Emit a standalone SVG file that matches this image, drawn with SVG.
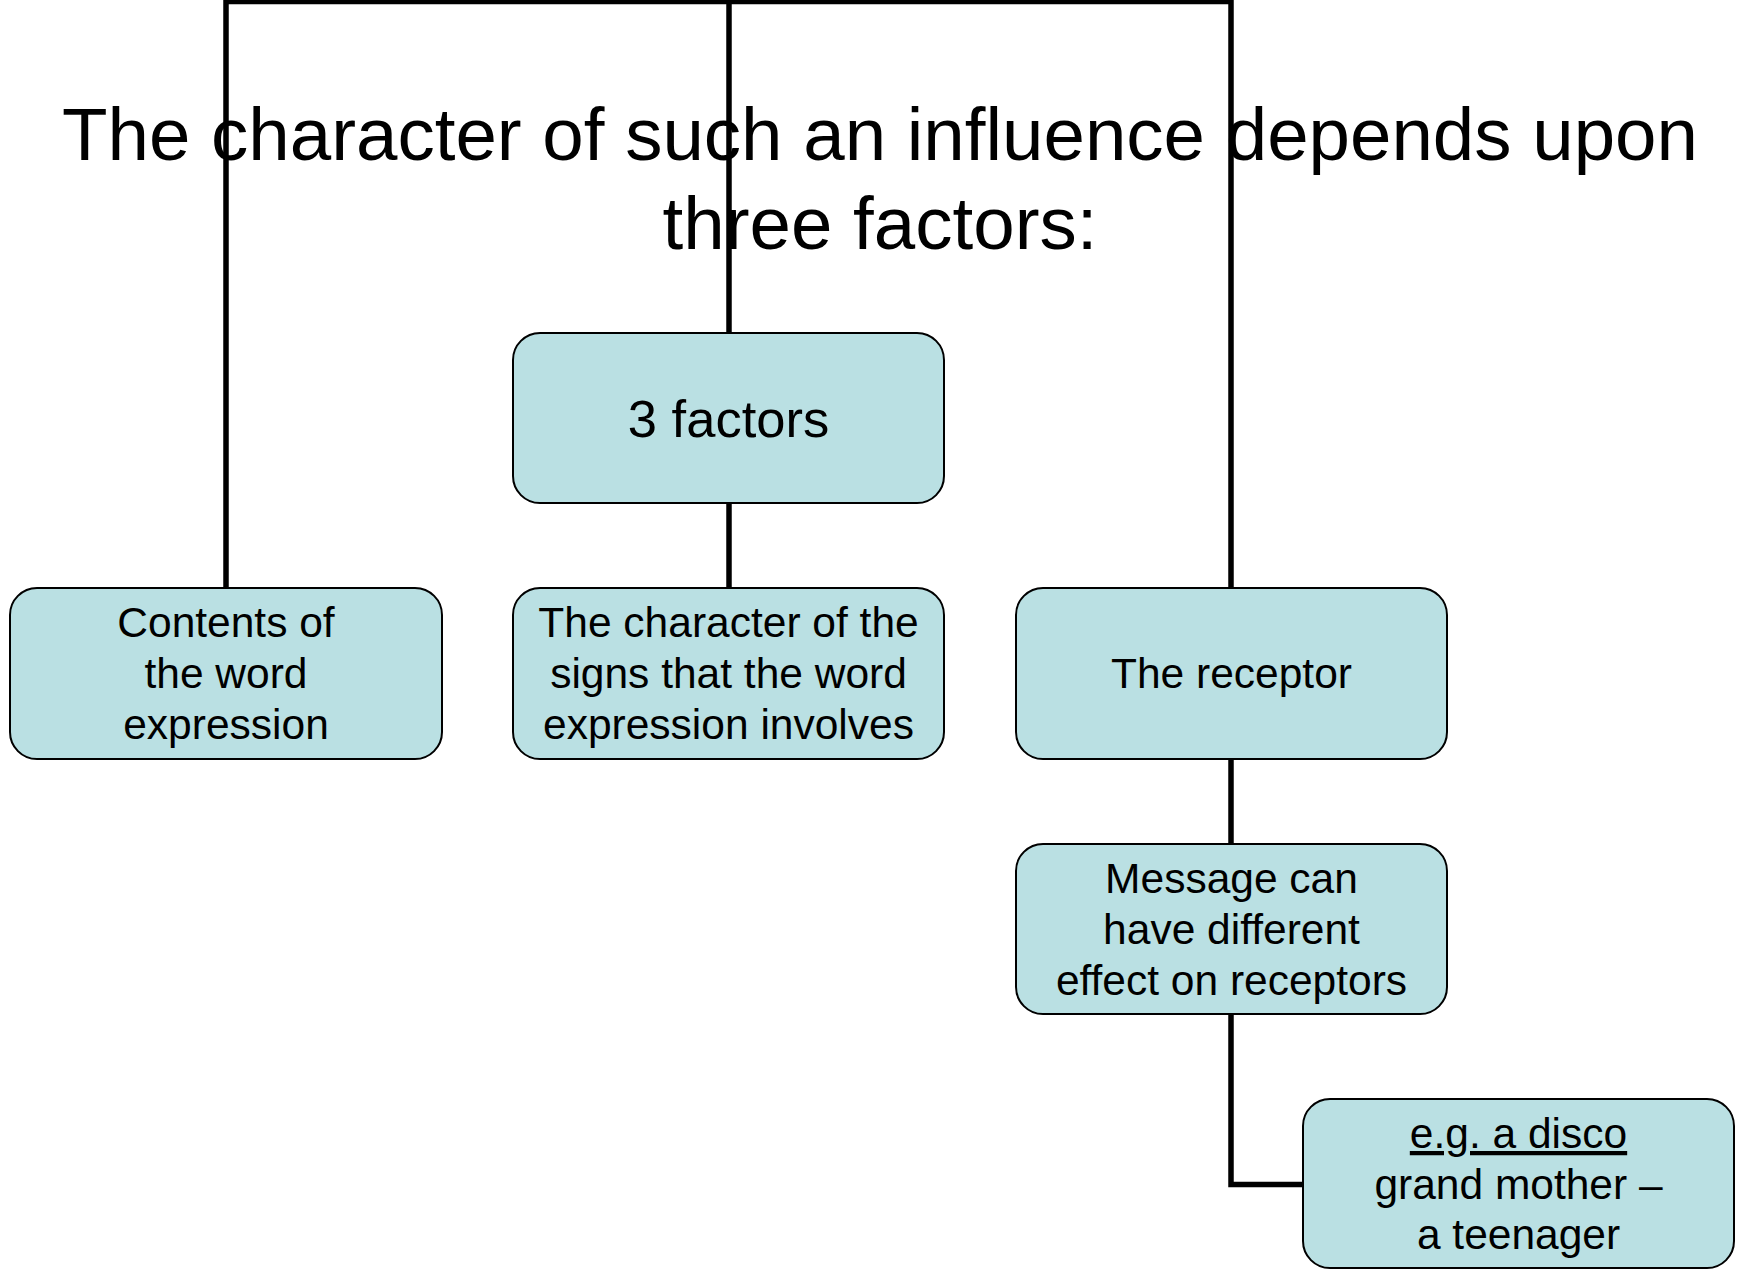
<svg xmlns="http://www.w3.org/2000/svg" width="1744" height="1270" viewBox="0 0 1744 1270">
<style>
.box{fill:#BAE0E3;stroke:#000;stroke-width:2}
.t{font-family:"Liberation Sans",Arial,sans-serif;font-size:42.5px;fill:#000;text-anchor:middle}
.big{font-size:52.5px}
.title{font-family:"Liberation Sans",Arial,sans-serif;font-size:74.5px;fill:#000;text-anchor:middle}
.c{fill:none;stroke:#000;stroke-width:5.5}
</style>
<rect width="1744" height="1270" fill="#fff"/>
<g id="connectors">
<path class="c" d="M226,588 V1.5 H1231 V588"/>
<path class="c" d="M729,1.5 V333"/>
<path class="c" d="M729,503 V588"/>
<path class="c" d="M1231,759 V844"/>
<path class="c" d="M1231,1014 V1184.5 H1303"/>
</g>
<g id="title">
<text class="title" x="880" y="160">The character of such an influence depends upon</text>
<text class="title" x="880" y="249">three factors:</text>
</g>
<g id="node-3factors">
<rect class="box" x="513" y="333" width="431" height="170" rx="27"/>
<text class="t big" x="728.5" y="437">3 factors</text>
</g>
<g id="node-contents">
<rect class="box" x="10" y="588" width="432" height="171" rx="27"/>
<text class="t" x="226" y="637">Contents of</text>
<text class="t" x="226" y="688">the word</text>
<text class="t" x="226" y="739">expression</text>
</g>
<g id="node-character">
<rect class="box" x="513" y="588" width="431" height="171" rx="27"/>
<text class="t" x="728.5" y="637">The character of the</text>
<text class="t" x="728.5" y="688">signs that the word</text>
<text class="t" x="728.5" y="739">expression involves</text>
</g>
<g id="node-receptor">
<rect class="box" x="1016" y="588" width="431" height="171" rx="27"/>
<text class="t" x="1231.5" y="688">The receptor</text>
</g>
<g id="node-message">
<rect class="box" x="1016" y="844" width="431" height="170" rx="27"/>
<text class="t" x="1231.5" y="893">Message can</text>
<text class="t" x="1231.5" y="944">have different</text>
<text class="t" x="1231.5" y="995">effect on receptors</text>
</g>
<g id="node-example">
<rect class="box" x="1303" y="1099" width="431" height="169" rx="27"/>
<text class="t" x="1518.5" y="1148" text-decoration="underline">e.g. a disco</text>
<text class="t" x="1518.5" y="1199">grand mother –</text>
<text class="t" x="1518.5" y="1249">a teenager</text>
</g>
</svg>
